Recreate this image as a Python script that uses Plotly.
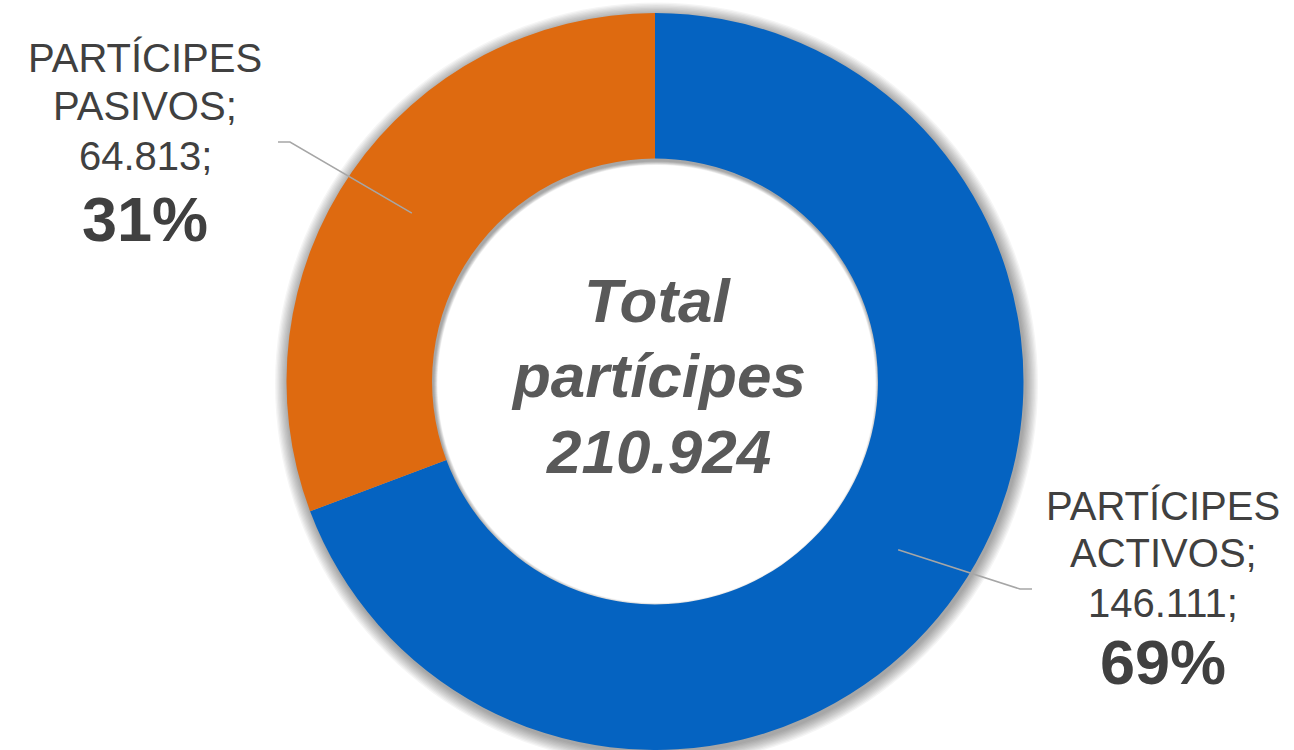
import math
import plotly.graph_objects as go

# ---- data -------------------------------------------------------------
categories = ["PARTÍCIPES ACTIVOS", "PARTÍCIPES PASIVOS"]
participes = [146111, 64813]
slice_colors = ["#0563C1", "#DE6A10"]
center_title = ["Total", "partícipes"]

# ---- geometry (pixels) ------------------------------------------------
W, H = 1294, 750
CX = 655.0
R_OUT = 368.5
HOLE = 0.605
R_IN = R_OUT * HOLE
CY = H - R_OUT

TEXT_COLOR = "#404040"
CENTER_COLOR = "#595959"
LEADER_COLOR = "#A6A6A6"
FONT = "Liberation Sans, Arial, sans-serif"

LABEL_SIZE = 40
PCT_SIZE = 63
CENTER_SIZE = 62


def px(x):
    return x / W


def py(y):
    return 1 - y / H


def fmt_int(v):
    return f"{v:,}".replace(",", ".")


def text_line(x, baseline, text, size, color):
    """Single-line annotation positioned by its baseline (px)."""
    return dict(
        x=px(x), y=py(baseline - 0.34 * size), xref="paper", yref="paper",
        xanchor="center", yanchor="middle", showarrow=False,
        text=text, font=dict(family=FONT, size=size, color=color),
    )


total = sum(participes)

fig = go.Figure()
fig.add_trace(go.Pie(
    labels=categories,
    values=participes,
    marker=dict(colors=slice_colors, line=dict(width=0)),
    hole=HOLE,
    sort=False,
    direction="clockwise",
    rotation=0,
    textinfo="none",
    hoverinfo="label+value+percent",
    showlegend=False,
    domain=dict(x=[px(CX - R_OUT), px(CX + R_OUT)], y=[0, 2 * R_OUT / H]),
))


# ---- soft drop shadow behind the ring ---------------------------------
def ring_path(cx, cy, ro, ri, n=160):
    outer = [(cx + ro * math.cos(2 * math.pi * k / n), cy + ro * math.sin(2 * math.pi * k / n)) for k in range(n)]
    inner = [(cx + ri * math.cos(-2 * math.pi * k / n), cy + ri * math.sin(-2 * math.pi * k / n)) for k in range(n)]
    parts = []
    for pts in (outer, inner):
        s = "M" + " L".join(f"{px(x):.5f},{py(y):.5f}" for x, y in pts) + " Z"
        parts.append(s)
    return " ".join(parts)


shapes = []
SH_DX, SH_DY = 1.5, 2.5
for k in range(10):
    shapes.append(dict(
        type="path", xref="paper", yref="paper", layer="below",
        path=ring_path(CX + SH_DX, CY + SH_DY, R_OUT + 1.3 * (k + 1), R_IN - 0.4 * (k + 1)),
        fillcolor="rgba(0,0,0,0.04)", line=dict(width=0), fillrule="evenodd",
    ))

# ---- leader lines & labels -------------------------------------------
label_cx = [1163, 145]                          # text centre x per slice
label_baselines = [[520, 567, 617], [72, 120, 170]]
pct_baseline = [683, 240]
elbows = [[(1020, 589), (1032, 589)], [(290, 142), (278, 142)]]

annotations = []
cum = 0.0
r_mid = (R_OUT + R_IN) / 2
for i, (name, v) in enumerate(zip(categories, participes)):
    frac = v / total
    theta = 2 * math.pi * (cum + frac / 2)
    cum += frac
    sx = CX + r_mid * math.sin(theta)
    sy = CY - r_mid * math.cos(theta)
    pts = [(sx, sy)] + elbows[i]
    shapes.append(dict(
        type="path", xref="paper", yref="paper", layer="above",
        path="M" + " L".join(f"{px(x):.5f},{py(y):.5f}" for x, y in pts),
        line=dict(color=LEADER_COLOR, width=1.5),
    ))
    words = name.split(" ")
    lines = [words[0], words[1] + ";", fmt_int(v) + ";"]
    for line, base in zip(lines, label_baselines[i]):
        annotations.append(text_line(label_cx[i], base, line, LABEL_SIZE, TEXT_COLOR))
    annotations.append(text_line(label_cx[i], pct_baseline[i],
                                 f"<b>{round(frac * 100)}%</b>", PCT_SIZE, TEXT_COLOR))

# ---- centre title -----------------------------------------------------
center_lines = center_title + [fmt_int(total)]
center_baselines = [322, 397, 473]
for line, base in zip(center_lines, center_baselines):
    annotations.append(text_line(658, base, f"<b><i>{line}</i></b>", CENTER_SIZE, CENTER_COLOR))

fig.update_layout(
    width=W, height=H,
    margin=dict(l=0, r=0, t=0, b=0),
    paper_bgcolor="white", plot_bgcolor="white",
    shapes=shapes, annotations=annotations,
    showlegend=False,
)

fig.write_html("out.html", config={"displayModeBar": False})
